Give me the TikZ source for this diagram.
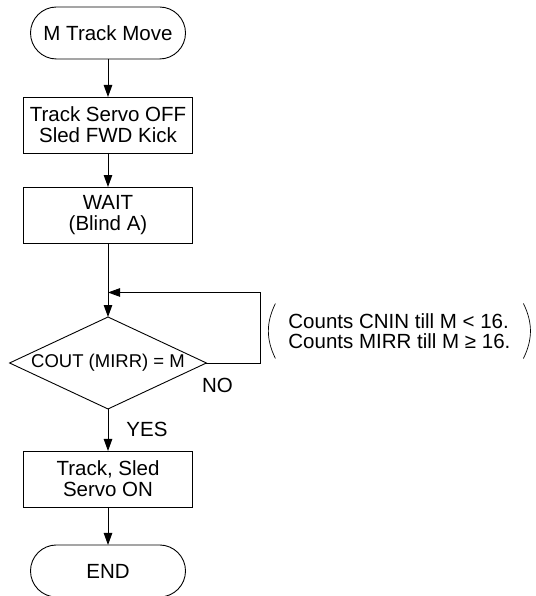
\documentclass[tikz,border=0pt]{standalone}
\usepackage{fontspec}
\setmainfont{Liberation Sans}
\usetikzlibrary{arrows.meta,positioning,shapes.geometric}

\begin{document}
\begin{tikzpicture}[
    x=1pt, y=1pt,
    node distance=38pt,
    every node/.style={font=\fontsize{20.5}{21}\selectfont},
    term/.style={rectangle, rounded corners=26pt, draw=black, line width=0.9pt, outer sep=0pt, minimum width=155pt, minimum height=52pt},
    block/.style={rectangle, draw=black, line width=0.9pt, outer sep=0pt, minimum width=169pt, minimum height=56pt, inner xsep=2pt, align=center},
    test/.style={diamond, draw=black, line width=0.9pt, outer sep=0pt, minimum width=193pt, minimum height=90pt, aspect=2.14, inner sep=1pt, font=\fontsize{18.5}{20}\selectfont},
    note/.style={align=left, inner sep=0pt, font=\fontsize{20.5}{20}\selectfont},
    paren/.style={line width=0.7pt},
    arr/.style={-{Triangle[length=12pt, width=8.5pt]}, line width=0.9pt}
]
\useasboundingbox (0,0) rectangle (535,-596);
\node[term] (start) at (108,-33) {M Track Move};
\node[block, below=of start] (kick) {Track Servo OFF\\Sled FWD Kick};
\node[block, below=34pt of kick] (wait) {WAIT\\(Blind A)};
\node[test, below=74pt of wait] (cout) {COUT (MIRR) = M};
\node[block, below=42pt of cout] (servo) {Track, Sled\\Servo ON};
\node[term, below=of servo] (stop) {END};

% loop back while count not reached
\coordinate[right=54pt of cout.east] (se);
\coordinate[above=70.5pt of se] (ne);

\node (no) at ([shift={(11pt,-22pt)}]cout.east) {NO};
\node (yes) at ([shift={(39pt,-20.5pt)}]cout.south) {YES};

\node[note] (cnt) at ([shift={(139pt,-38.5pt)}]ne) {Counts CNIN till M < 16.\\Counts MIRR till M ≥ 16.};
\draw[paren] ([shift={(-124pt,27.5pt)}]cnt.center) to[bend right=26] ([shift={(-124pt,-27.5pt)}]cnt.center);
\draw[paren] ([shift={(124pt,27.5pt)}]cnt.center) to[bend left=26] ([shift={(124pt,-27.5pt)}]cnt.center);

\draw[arr] (start) -- (kick);
\draw[arr] (kick) -- (wait);
\draw[arr] (wait) -- (cout);
\draw[arr] (cout.east) -- (se) -- (ne) -- (ne -| cout.north);
\draw[arr] (cout) -- (servo);
\draw[arr] (servo) -- (stop);
\end{tikzpicture}
\end{document}
